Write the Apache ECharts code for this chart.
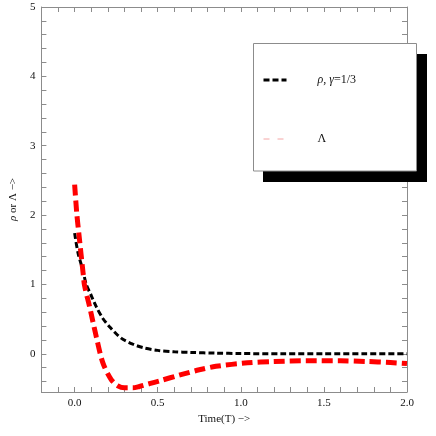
<!DOCTYPE html>
<html>
<head>
<meta charset="utf-8">
<script src="https://cdn.jsdelivr.net/npm/echarts@6/dist/echarts.min.js"></script>
<style>
  html, body { margin: 0; padding: 0; background: #fff; }
  #main { width: 436px; height: 436px; }
</style>
</head>
<body>
<div id="main"></div>
<script>
// values
var rhoData = [
  [0, 1.74], [0.02, 1.46], [0.05, 1.2], [0.07, 1.0], [0.1, 0.84], [0.13, 0.68],
  [0.17, 0.51], [0.21, 0.39], [0.25, 0.29], [0.29, 0.21], [0.35, 0.14], [0.41, 0.09],
  [0.5, 0.05], [0.6, 0.03], [0.7, 0.02], [0.85, 0.01], [1.0, 0.005], [1.25, 0],
  [1.5, 0], [1.75, 0], [2.0, 0]
]
var lambdaData = [
  [0, 2.44], [0.013, 2.02], [0.026, 1.72], [0.052, 1.14], [0.06, 0.98], [0.09, 0.68],
  [0.13, 0.25], [0.17, -0.13], [0.22, -0.37], [0.26, -0.46], [0.3, -0.49], [0.35, -0.49],
  [0.39, -0.47], [0.45, -0.43], [0.51, -0.39], [0.64, -0.3], [0.75, -0.23], [0.85, -0.18],
  [1.04, -0.13], [1.2, -0.11], [1.4, -0.1], [1.6, -0.1], [1.75, -0.11], [1.9, -0.125], [2.0, -0.14]
]
var xTicks = [-0.1, 0, 0.1, 0.2, 0.3, 0.4, 0.5, 0.6, 0.7, 0.8, 0.9, 1, 1.1, 1.2, 1.3, 1.4, 1.5, 1.6, 1.7, 1.8, 1.9]
var xLabels = [0, 0.5, 1, 1.5, 2]
var yTicks = [-0.4, -0.2, 0, 0.2, 0.4, 0.6, 0.8, 1, 1.2, 1.4, 1.6, 1.8, 2, 2.2, 2.4, 2.6, 2.8, 3,
  3.2, 3.4, 3.6, 3.8, 4, 4.2, 4.4, 4.6, 4.8]
var yLabels = [0, 1, 2, 3, 4, 5]

var serif = 'Liberation Serif'
var frame = '#8c8c8c'

function frameAxis(pos, min, max, ticks, labels, fmt) {
  return {
    type: 'value',
    position: pos,
    min: min,
    max: max,
    splitLine: { show: false },
    axisLine: { show: true, onZero: false, lineStyle: { color: frame, width: 1 } },
    axisTick: { show: true, inside: true, length: 5, customValues: ticks, lineStyle: { color: frame } },
    axisLabel: labels ? {
      show: true, customValues: labels, formatter: fmt, margin: 6,
      color: '#111', fontFamily: serif, fontSize: 11
    } : { show: false }
  }
}

var chart = echarts.init(document.getElementById('main'))

var xMain = frameAxis('bottom', -0.2, 2, xTicks, xLabels, function (v) { return v.toFixed(1) })
xMain.name = 'Time(T) −>'
xMain.nameLocation = 'middle'
xMain.nameGap = 21
xMain.nameTextStyle = { color: '#111', fontFamily: serif, fontSize: 11 }

var yMain = frameAxis('left', -0.55, 5, yTicks, yLabels, function (v) { return String(v) })
yMain.name = '{i|ρ} or Λ −>'
yMain.nameLocation = 'middle'
yMain.nameGap = 16
yMain.nameTextStyle = {
  color: '#111', fontFamily: serif, fontSize: 11,
  rich: { i: { fontStyle: 'italic', fontFamily: serif, fontSize: 11, color: '#111' } }
}

chart.setOption({
  backgroundColor: '#fff',
  animation: false,
  color: ['#000', '#ff0000'],
  grid: { left: 38, right: 29, top: 7, bottom: 44 },
  xAxis: [xMain, frameAxis('top', -0.2, 2, xTicks.concat([2.0]), null)],
  yAxis: [yMain, frameAxis('right', -0.55, 5, yTicks, null)],
  graphic: [
    { type: 'rect', z: 10, shape: { x: 263, y: 54, width: 164, height: 128 }, style: { fill: '#000' } },
    { type: 'rect', z: 11, shape: { x: 253.5, y: 43.5, width: 163, height: 127.5 },
      style: { fill: '#fff', stroke: '#8c8c8c', lineWidth: 1 } }
  ],
  legend: {
    z: 20,
    orient: 'vertical',
    left: 262,
    top: 74,
    padding: 0,
    itemWidth: 23,
    itemHeight: 14,
    itemGap: 47,
    data: [
      { name: 'rho', itemStyle: { opacity: 0 }, lineStyle: { color: '#000', width: 3, type: [6, 3] } },
      { name: 'Lambda', itemStyle: { opacity: 0 }, lineStyle: { color: '#f4a6a6', width: 1, type: [6, 8] } }
    ],
    formatter: function (name) {
      return name === 'rho' ? '{i|ρ}, {i|γ}=1/3' : 'Λ'
    },
    textStyle: {
      color: '#111', fontFamily: serif, fontSize: 12, padding: [0, 0, 0, 26],
      rich: { i: { fontStyle: 'italic', fontFamily: serif, fontSize: 12, color: '#111' } }
    }
  },
  series: [
    {
      name: 'rho',
      type: 'line',
      data: rhoData,
      smooth: 0.3,
      symbol: 'none',
      showSymbol: false,
      lineStyle: { color: '#000', width: 3, type: [6, 3] }
    },
    {
      name: 'Lambda',
      type: 'line',
      data: lambdaData,
      smooth: 0.3,
      symbol: 'none',
      showSymbol: false,
      lineStyle: { color: '#ff0000', width: 5, type: [11, 5] }
    }
  ]
})
</script>
</body>
</html>
